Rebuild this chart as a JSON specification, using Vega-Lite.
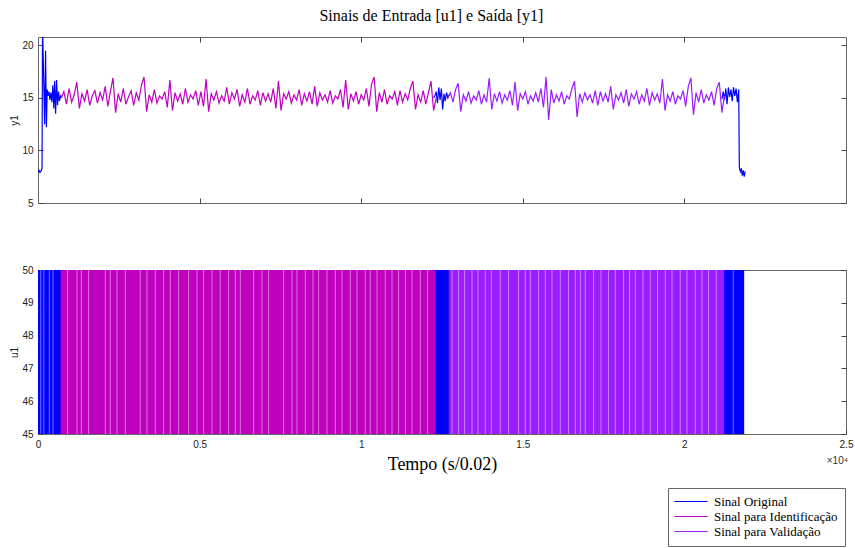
{
"$schema": "https://vega.github.io/schema/vega-lite/v6.json",
"autosize": {"type": "pad"},
"padding": {"left": 9, "top": 8, "right": 3, "bottom": 3},
"background": "white",
"title": {"text": "Sinais de Entrada [u1] e Saída [y1]", "font": "Liberation Serif", "fontSize": 16, "fontWeight": "normal", "color": "#000", "anchor": "middle", "offset": 12},
"bounds": "flush",
"spacing": 67,
"datasets": {
"orig": [
{"t":0,"y":8.0,"g":"a"},{"t":30,"y":8.1,"g":"a"},{"t":60,"y":7.9,"g":"a"},{"t":90,"y":8.0,"g":"a"},{"t":110,"y":8.2,"g":"a"},{"t":125,"y":8.3,"g":"a"},{"t":140,"y":21.8,"g":"a"},{"t":175,"y":17.0,"g":"a"},{"t":205,"y":12.5,"g":"a"},{"t":235,"y":19.5,"g":"a"},{"t":260,"y":12.2,"g":"a"},{"t":285,"y":15.8,"g":"a"},{"t":310,"y":15.2,"g":"a"},{"t":340,"y":15.6,"g":"a"},{"t":370,"y":14.8,"g":"a"},{"t":400,"y":15.5,"g":"a"},{"t":430,"y":14.6,"g":"a"},{"t":460,"y":16.2,"g":"a"},{"t":490,"y":14.0,"g":"a"},{"t":515,"y":16.6,"g":"a"},{"t":545,"y":13.5,"g":"a"},{"t":575,"y":16.7,"g":"a"},{"t":605,"y":14.3,"g":"a"},{"t":635,"y":15.6,"g":"a"},{"t":665,"y":14.7,"g":"a"},{"t":700,"y":15.2,"g":"a"},{"t":740,"y":15.0,"g":"a"},
{"t":12240,"y":15.0,"g":"b"},{"t":12280,"y":15.2,"g":"b"},{"t":12320,"y":15.6,"g":"b"},{"t":12360,"y":14.5,"g":"b"},{"t":12400,"y":16.0,"g":"b"},{"t":12440,"y":14.8,"g":"b"},{"t":12480,"y":15.9,"g":"b"},{"t":12520,"y":13.9,"g":"b"},{"t":12560,"y":15.4,"g":"b"},{"t":12600,"y":14.7,"g":"b"},{"t":12640,"y":15.5,"g":"b"},{"t":12680,"y":15.0,"g":"b"},{"t":12720,"y":15.3,"g":"b"},
{"t":21160,"y":14.9,"g":"c"},{"t":21200,"y":15.6,"g":"c"},{"t":21240,"y":14.8,"g":"c"},{"t":21280,"y":15.9,"g":"c"},{"t":21320,"y":14.4,"g":"c"},{"t":21360,"y":16.0,"g":"c"},{"t":21400,"y":15.1,"g":"c"},{"t":21440,"y":15.8,"g":"c"},{"t":21480,"y":14.7,"g":"c"},{"t":21520,"y":16.0,"g":"c"},{"t":21560,"y":15.2,"g":"c"},{"t":21600,"y":15.9,"g":"c"},{"t":21640,"y":14.6,"g":"c"},{"t":21680,"y":15.8,"g":"c"},{"t":21700,"y":8.4,"g":"c"},{"t":21730,"y":8.0,"g":"c"},{"t":21760,"y":8.3,"g":"c"},{"t":21790,"y":7.6,"g":"c"},{"t":21820,"y":8.1,"g":"c"},{"t":21850,"y":7.5,"g":"c"},{"t":21880,"y":8.0,"g":"c"}
],
"ident": [
{"t":720,"y":15.0},{"t":800,"y":15.6},{"t":880,"y":14.4},{"t":960,"y":15.9},{"t":1040,"y":14.6},{"t":1120,"y":15.3},{"t":1200,"y":16.5},{"t":1280,"y":14.0},{"t":1360,"y":15.4},{"t":1440,"y":14.7},{"t":1520,"y":15.8},{"t":1600,"y":14.3},{"t":1680,"y":15.2},{"t":1760,"y":15.7},{"t":1840,"y":14.5},{"t":1920,"y":15.5},{"t":2000,"y":14.8},{"t":2080,"y":16.1},{"t":2160,"y":14.2},{"t":2240,"y":15.6},{"t":2320,"y":16.9},{"t":2400,"y":13.6},{"t":2480,"y":15.4},{"t":2560,"y":14.6},{"t":2640,"y":15.9},{"t":2720,"y":14.4},{"t":2800,"y":15.1},{"t":2880,"y":15.7},{"t":2960,"y":14.3},{"t":3040,"y":15.5},{"t":3120,"y":14.8},{"t":3200,"y":16.2},{"t":3280,"y":17.0},{"t":3360,"y":13.7},{"t":3440,"y":15.3},{"t":3520,"y":14.6},{"t":3600,"y":15.8},{"t":3680,"y":14.5},{"t":3760,"y":15.2},{"t":3840,"y":14.9},{"t":3920,"y":15.6},{"t":4000,"y":14.1},{"t":4080,"y":16.7},{"t":4160,"y":13.8},{"t":4240,"y":15.5},{"t":4320,"y":14.7},{"t":4400,"y":15.4},{"t":4480,"y":14.4},{"t":4560,"y":15.9},{"t":4640,"y":14.6},{"t":4720,"y":15.3},{"t":4800,"y":14.9},{"t":4880,"y":15.7},{"t":4960,"y":14.3},{"t":5040,"y":15.6},{"t":5120,"y":14.2},{"t":5200,"y":16.8},{"t":5280,"y":13.7},{"t":5360,"y":15.4},{"t":5440,"y":14.8},{"t":5520,"y":15.6},{"t":5600,"y":14.5},{"t":5680,"y":15.2},{"t":5760,"y":14.7},{"t":5840,"y":16.0},{"t":5920,"y":14.4},{"t":6000,"y":15.5},{"t":6080,"y":14.9},{"t":6160,"y":15.8},{"t":6240,"y":14.2},{"t":6320,"y":15.3},{"t":6400,"y":14.6},{"t":6480,"y":15.9},{"t":6560,"y":14.4},{"t":6640,"y":15.2},{"t":6720,"y":14.8},{"t":6800,"y":15.7},{"t":6880,"y":14.3},{"t":6960,"y":15.5},{"t":7040,"y":14.7},{"t":7120,"y":15.4},{"t":7200,"y":14.6},{"t":7280,"y":15.9},{"t":7360,"y":14.0},{"t":7440,"y":16.6},{"t":7520,"y":13.8},{"t":7600,"y":15.4},{"t":7680,"y":14.9},{"t":7760,"y":15.6},{"t":7840,"y":14.5},{"t":7920,"y":15.3},{"t":8000,"y":14.8},{"t":8080,"y":15.8},{"t":8160,"y":14.3},{"t":8240,"y":15.4},{"t":8320,"y":14.7},{"t":8400,"y":15.6},{"t":8480,"y":14.4},{"t":8560,"y":16.1},{"t":8640,"y":14.2},{"t":8720,"y":15.5},{"t":8800,"y":14.8},{"t":8880,"y":15.3},{"t":8960,"y":14.6},{"t":9040,"y":15.7},{"t":9120,"y":14.5},{"t":9200,"y":15.2},{"t":9280,"y":14.9},{"t":9360,"y":15.8},{"t":9440,"y":14.1},{"t":9520,"y":16.7},{"t":9600,"y":13.9},{"t":9680,"y":15.4},{"t":9760,"y":14.7},{"t":9840,"y":15.6},{"t":9920,"y":14.4},{"t":10000,"y":15.3},{"t":10080,"y":14.8},{"t":10160,"y":15.9},{"t":10240,"y":14.2},{"t":10320,"y":16.3},{"t":10400,"y":17.0},{"t":10480,"y":13.7},{"t":10560,"y":15.5},{"t":10640,"y":14.6},{"t":10720,"y":15.8},{"t":10800,"y":14.4},{"t":10880,"y":15.2},{"t":10960,"y":14.9},{"t":11040,"y":15.6},{"t":11120,"y":14.3},{"t":11200,"y":15.7},{"t":11280,"y":14.6},{"t":11360,"y":15.4},{"t":11440,"y":14.8},{"t":11520,"y":15.9},{"t":11600,"y":16.6},{"t":11680,"y":13.9},{"t":11760,"y":15.3},{"t":11840,"y":14.6},{"t":11920,"y":15.7},{"t":12000,"y":14.4},{"t":12080,"y":15.5},{"t":12160,"y":16.6},{"t":12240,"y":13.8},{"t":12320,"y":15.0}
],
"valid": [
{"t":12680,"y":15.0},{"t":12760,"y":15.5},{"t":12840,"y":14.6},{"t":12920,"y":15.8},{"t":13000,"y":16.4},{"t":13080,"y":13.7},{"t":13160,"y":15.3},{"t":13240,"y":14.7},{"t":13320,"y":15.6},{"t":13400,"y":14.5},{"t":13480,"y":15.2},{"t":13560,"y":14.8},{"t":13640,"y":15.7},{"t":13720,"y":14.4},{"t":13800,"y":15.3},{"t":13880,"y":14.6},{"t":13960,"y":16.9},{"t":14040,"y":13.9},{"t":14120,"y":15.4},{"t":14200,"y":14.7},{"t":14280,"y":15.6},{"t":14360,"y":14.5},{"t":14440,"y":15.3},{"t":14520,"y":14.8},{"t":14600,"y":15.7},{"t":14680,"y":14.3},{"t":14760,"y":16.5},{"t":14840,"y":13.8},{"t":14920,"y":15.4},{"t":15000,"y":14.9},{"t":15080,"y":15.6},{"t":15160,"y":14.4},{"t":15240,"y":15.2},{"t":15320,"y":14.7},{"t":15400,"y":15.5},{"t":15480,"y":14.6},{"t":15560,"y":15.9},{"t":15640,"y":14.1},{"t":15720,"y":17.0},{"t":15800,"y":12.9},{"t":15880,"y":15.8},{"t":15960,"y":14.5},{"t":16040,"y":15.3},{"t":16120,"y":14.7},{"t":16200,"y":15.6},{"t":16280,"y":14.4},{"t":16360,"y":15.2},{"t":16440,"y":14.9},{"t":16520,"y":15.9},{"t":16600,"y":16.6},{"t":16680,"y":13.2},{"t":16760,"y":15.4},{"t":16840,"y":14.6},{"t":16920,"y":15.5},{"t":17000,"y":14.8},{"t":17080,"y":15.3},{"t":17160,"y":14.5},{"t":17240,"y":15.7},{"t":17320,"y":14.3},{"t":17400,"y":15.6},{"t":17480,"y":14.7},{"t":17560,"y":15.4},{"t":17640,"y":14.6},{"t":17720,"y":16.1},{"t":17800,"y":13.9},{"t":17880,"y":15.3},{"t":17960,"y":14.8},{"t":18040,"y":15.5},{"t":18120,"y":14.5},{"t":18200,"y":15.8},{"t":18280,"y":14.2},{"t":18360,"y":15.4},{"t":18440,"y":14.9},{"t":18520,"y":15.6},{"t":18600,"y":14.4},{"t":18680,"y":15.3},{"t":18760,"y":14.7},{"t":18840,"y":15.9},{"t":18920,"y":14.3},{"t":19000,"y":15.5},{"t":19080,"y":14.8},{"t":19160,"y":15.4},{"t":19240,"y":14.5},{"t":19320,"y":16.8},{"t":19400,"y":13.8},{"t":19480,"y":15.3},{"t":19560,"y":14.7},{"t":19640,"y":15.6},{"t":19720,"y":14.4},{"t":19800,"y":15.2},{"t":19880,"y":14.9},{"t":19960,"y":15.7},{"t":20040,"y":14.2},{"t":20120,"y":16.1},{"t":20200,"y":16.9},{"t":20280,"y":13.4},{"t":20360,"y":15.5},{"t":20440,"y":14.6},{"t":20520,"y":15.8},{"t":20600,"y":14.5},{"t":20680,"y":15.3},{"t":20760,"y":14.8},{"t":20840,"y":15.6},{"t":20920,"y":14.3},{"t":21000,"y":15.9},{"t":21080,"y":16.5},{"t":21160,"y":13.6},{"t":21240,"y":15.2}
],
"ublocks": [
{"a":0,"b":21850,"s":"Sinal Original"},
{"a":700,"b":12300,"s":"Sinal para Identificação"},
{"a":12710,"b":21230,"s":"Sinal para Validação"}
],
"ugaps": [
{"g":87},{"g":179},{"g":350},{"g":464},
{"g":916},{"g":1207},{"g":1340},{"g":1566},{"g":2082},{"g":2236},{"g":2444},{"g":2701},{"g":3165},{"g":3372},{"g":3630},{"g":3886},{"g":4094},{"g":4350},{"g":4660},{"g":4919},{"g":5124},{"g":5384},{"g":5640},{"g":5897},{"g":6104},{"g":6259},{"g":6671},{"g":6931},{"g":7135},{"g":7599},{"g":7859},{"g":8013},{"g":8270},{"g":8508},{"g":8682},{"g":8942},{"g":9200},{"g":9406},{"g":9663},{"g":9870},{"g":10125},{"g":10280},{"g":10489},{"g":10745},{"g":10952},{"g":11157},{"g":11370},{"g":11572},{"g":11829},{"g":12055},
{"g":12809},{"g":13013},{"g":13199},{"g":13428},{"g":13613},{"g":13839},{"g":14025},{"g":14303},{"g":14560},{"g":14870},{"g":15077},{"g":15232},{"g":15489},{"g":15696},{"g":15903},{"g":16160},{"g":16417},{"g":16624},{"g":16780},{"g":16933},{"g":17190},{"g":17419},{"g":17654},{"g":17861},{"g":18118},{"g":18304},{"g":18480},{"g":18718},{"g":18944},{"g":19170},{"g":19408},{"g":19616},{"g":19872},{"g":20080},{"g":20336},{"g":20544},{"g":20748},{"g":20986},
{"g":21510}
],
"mark10": [{"t":25000,"y":45}]
},
"vconcat": [
{
"width": 808, "height": 166,
"resolve": {"axis": {"x": "independent", "y": "independent"}},
"layer": [
{"data": {"name": "orig"}, "mark": {"type": "line", "strokeWidth": 1.2, "clip": true},
 "encoding": {
  "x": {"field": "t", "type": "quantitative", "scale": {"domain": [0, 25000], "nice": false}, "axis": {"values": [5000, 10000, 15000, 20000], "labels": false, "title": null}},
  "y": {"field": "y", "type": "quantitative", "scale": {"domain": [5, 20.8], "nice": false, "zero": false}, "axis": {"values": [5, 10, 15, 20], "title": "y1", "labelPadding": 10, "titlePadding": 2}},
  "detail": {"field": "g"},
  "color": {"datum": "Sinal Original", "scale": {"domain": ["Sinal Original", "Sinal para Identificação", "Sinal para Validação"], "range": ["#0000FF", "#BF00BF", "#9B1CFF"]},
   "legend": {"orient": "none", "legendX": 630, "legendY": 451, "title": null, "direction": "vertical", "symbolType": "M-7,0H26", "symbolSize": 4, "symbolStrokeWidth": 1.2, "labelOffset": 26, "labelFont": "Liberation Serif", "labelFontSize": 13, "labelColor": "#000", "rowPadding": 1, "padding": 7, "strokeColor": "#666", "fillColor": "white",
    "encode": {"symbols": {"update": {"stroke": {"scale": "color", "field": "value"}, "fill": {"value": "transparent"}}}}}}
 }},
{"data": {"name": "ident"}, "mark": {"type": "line", "strokeWidth": 1.2, "clip": true},
 "encoding": {
  "x": {"field": "t", "type": "quantitative", "axis": {"orient": "top", "values": [5000, 10000, 15000, 20000], "labels": false, "title": null}},
  "y": {"field": "y", "type": "quantitative", "axis": {"orient": "right", "values": [5, 10, 15, 20], "labels": false, "title": null}},
  "color": {"datum": "Sinal para Identificação"}
 }},
{"data": {"name": "valid"}, "mark": {"type": "line", "strokeWidth": 1.2, "clip": true},
 "encoding": {
  "x": {"field": "t", "type": "quantitative", "axis": null},
  "y": {"field": "y", "type": "quantitative", "axis": null},
  "color": {"datum": "Sinal para Validação"}
 }}
]
},
{
"width": 808, "height": 164,
"resolve": {"axis": {"x": "independent", "y": "independent"}},
"layer": [
{"data": {"name": "ublocks"}, "mark": {"type": "rect"},
 "encoding": {
  "x": {"field": "a", "type": "quantitative", "scale": {"domain": [0, 25000], "nice": false}, "axis": {"values": [0, 5000, 10000, 15000, 20000, 25000], "labelExpr": "datum.value / 10000", "title": "Tempo (s/0.02)", "titleFont": "Liberation Serif", "titleFontSize": 18, "titleColor": "#000", "labelPadding": 10, "titlePadding": 6}},
  "x2": {"field": "b"},
  "y": {"datum": 45, "type": "quantitative", "scale": {"domain": [45, 50], "nice": false, "zero": false}, "axis": {"orient": "right", "values": [45, 46, 47, 48, 49, 50], "labels": false, "title": null}},
  "y2": {"datum": 50},
  "color": {"field": "s", "type": "nominal", "scale": {"domain": ["Sinal Original", "Sinal para Identificação", "Sinal para Validação"], "range": ["#0000FF", "#BF00BF", "#9B1CFF"]}, "legend": null}
 }},
{"data": {"name": "ugaps"}, "mark": {"type": "rule", "color": "white", "opacity": 0.45, "strokeWidth": 1},
 "encoding": {
  "x": {"field": "g", "type": "quantitative", "axis": {"orient": "top", "values": [5000, 10000, 15000, 20000], "labels": false, "title": null}}
 }},
{"data": {"name": "mark10"}, "mark": {"type": "text", "text": "×10⁴", "align": "right", "baseline": "alphabetic", "dy": 30, "dx": 2, "font": "Liberation Sans", "fontSize": 10, "color": "#333"},
 "encoding": {
  "x": {"field": "t", "type": "quantitative", "axis": null},
  "y": {"field": "y", "type": "quantitative", "axis": {"orient": "left", "values": [45, 46, 47, 48, 49, 50], "labelExpr": "'' + round(datum.value)", "labelOverlap": false, "labelBound": false, "title": "u1", "labelPadding": 10, "titlePadding": 2}}
 }}
]
}
],
"config": {
  "view": {"stroke": "#666", "strokeWidth": 1},
  "axis": {"grid": false, "domain": false, "tickSize": -5, "tickColor": "#444", "labelFlush": false, "labelOverlap": false, "labelFont": "Liberation Sans", "labelFontSize": 10, "labelColor": "#222", "titleFont": "Liberation Sans", "titleFontSize": 10, "titleFontWeight": "normal", "titleColor": "#222"}
}
}
